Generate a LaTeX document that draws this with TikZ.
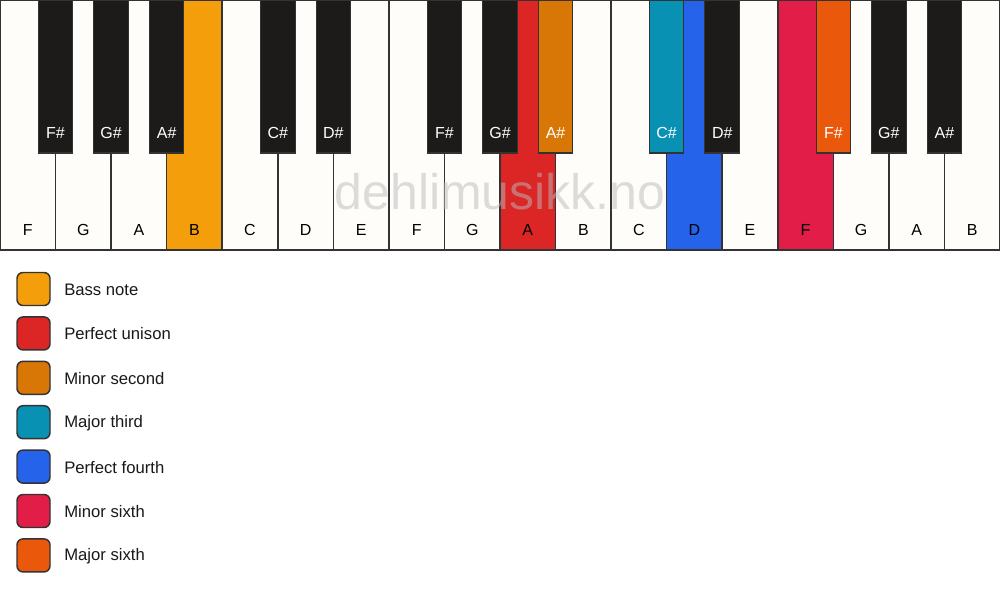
\documentclass[tikz,border=0pt]{standalone}
\usepackage{fontspec}
\setmainfont{Liberation Sans}
\definecolor{keywhite}{HTML}{FFFDF9}
\definecolor{keyblack}{HTML}{1C1B19}
\definecolor{bass}{HTML}{F59E0B}
\definecolor{unison}{HTML}{DC2626}
\definecolor{minsecond}{HTML}{D97706}
\definecolor{majthird}{HTML}{0891B2}
\definecolor{pfourth}{HTML}{2563EB}
\definecolor{minsixth}{HTML}{E11D48}
\definecolor{majsixth}{HTML}{EA580C}
\definecolor{edge}{HTML}{333333}
\definecolor{wmark}{HTML}{BBBBBB}
\begin{document}
\begin{tikzpicture}[x=0.75pt,y=-0.75pt,
  whitekey/.style={draw=edge, line width=1.1pt, minimum width=41.667pt, minimum height=187.5pt, anchor=north west, inner sep=0pt, outer sep=0pt},
  blackkey/.style={draw=edge, line width=0.8pt, minimum width=25.9pt, minimum height=114.75pt, anchor=north, inner sep=0pt, outer sep=0pt},
  wlabel/.style={text=black, font=\fontsize{12}{14}\selectfont, inner sep=0pt},
  blabel/.style={text=white, font=\fontsize{12}{14}\selectfont, inner sep=0pt},
  legbox/.style={draw=edge, line width=1.1pt, rounded corners=4.5pt, minimum width=24.75pt, minimum height=24.75pt, inner sep=0pt},
  legtext/.style={anchor=west, font=\fontsize{12.5}{15}\selectfont, inner sep=0pt, text=black!90}]
\fill[white] (0,0) rectangle (1000,594);
\useasboundingbox (0,0) rectangle (1000,594);
% white keys
\foreach \n/\c [count=\i from 0] in {F/keywhite,G/keywhite,A/keywhite,B/bass,C/keywhite,D/keywhite,E/keywhite,F/keywhite,G/keywhite,A/unison,B/keywhite,C/keywhite,D/pfourth,E/keywhite,F/minsixth,G/keywhite,A/keywhite,B/keywhite}{
  \node[whitekey, fill=\c] (w\i) at ({\i*55.5556},0) {};
  \node[wlabel] (lw\i) at ({(\i+0.5)*55.5556},230) {\n};
}
% black keys
\foreach \b/\n/\c [count=\j] in {1/F/keyblack,2/G/keyblack,3/A/keyblack,5/C/keyblack,6/D/keyblack,8/F/keyblack,9/G/keyblack,10/A/minsecond,12/C/majthird,13/D/keyblack,15/F/majsixth,16/G/keyblack,17/A/keyblack}{
  \node[blackkey, fill=\c] (b\j) at ({\b*55.5556},0) {};
  \node[blabel] (lb\j) at ({\b*55.5556},133) {\n\#};
}
% watermark
\node[text=wmark, opacity=0.5, font=\fontsize{37.5}{40}\selectfont, inner sep=0pt] (wm) at (500,192) {dehlimusikk.no};
% legend
\foreach \c/\t [count=\k from 0] in {bass/Bass note,unison/Perfect unison,minsecond/Minor second,majthird/Major third,pfourth/Perfect fourth,minsixth/Minor sixth,majsixth/Major sixth}{
  \node[legbox, fill=\c] (lg\k) at (33.5,{289+44.4*\k}) {};
  \node[legtext] (lt\k) at (64,{289.5+44.4*\k}) {\t};
}
\end{tikzpicture}
\end{document}
